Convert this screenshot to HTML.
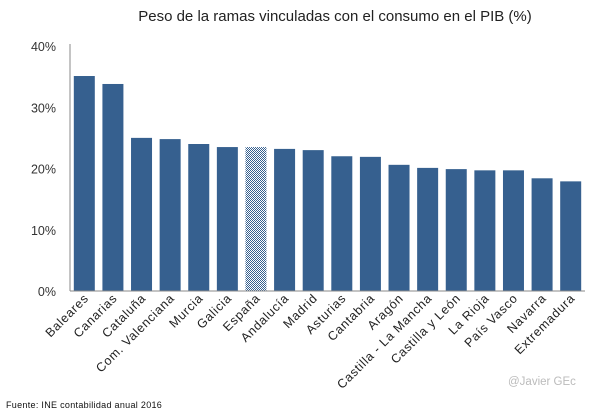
<!DOCTYPE html>
<html><head><meta charset="utf-8"><style>
body{margin:0;background:#fff;width:605px;height:414px;overflow:hidden;font-family:"Liberation Sans",sans-serif}
</style></head><body>
<svg id="c" width="605" height="414">
<defs><pattern id="hatch" width="2" height="2" patternUnits="userSpaceOnUse"><rect width="2" height="2" fill="#fff"/><rect width="1" height="1" fill="#36608f"/><rect x="1" y="1" width="1" height="1" fill="#36608f"/></pattern></defs>
<text x="335" y="21" text-anchor="middle" font-size="15" fill="#222">Peso de la ramas vinculadas con el consumo en el PIB (%)</text>
<text x="6" y="408" font-size="9" letter-spacing="0.3" fill="#111">Fuente: INE contabilidad anual 2016</text>
<text x="508" y="385" font-size="11.5" fill="#bbb">@Javier GEc</text>
</svg>
<script>
const categories=["Baleares","Canarias","Cataluña","Com. Valenciana","Murcia","Galicia","España","Andalucía","Madrid","Asturias","Cantabria","Aragón","Castilla - La Mancha","Castilla y León","La Rioja","País Vasco","Navarra","Extremadura"];
const values=[35.1,33.8,25.0,24.8,24.0,23.5,23.5,23.2,23.0,22.0,21.9,20.6,20.1,19.9,19.7,19.7,18.4,17.9];
const yTicks=[0,10,20,30,40];
const yTickLabels=["0%","10%","20%","30%","40%"];
const svg=document.getElementById('c');const NS='http://www.w3.org/2000/svg';
const x0=70,x1=585,yb=291,yt=46,ymax=40;
const band=(x1-x0)/categories.length;
const y=v=>yb-(v/ymax)*(yb-yt);
const xc=i=>x0+band*(i+0.5);
function mk(t,a){const e=document.createElementNS(NS,t);for(const k in a)e.setAttribute(k,a[k]);svg.appendChild(e);return e;}
yTicks.forEach((t,i)=>{const e=mk('text',{x:56,y:y(t)+5,'text-anchor':'end','font-size':12.5,fill:'#333'});e.textContent=yTickLabels[i];

});
values.forEach((v,i)=>{const r=mk('rect',{x:xc(i)-10.5,y:y(v),width:21,height:yb-y(v),fill:categories[i]==='España'?'url(#hatch)':'#36608f'});


const t=mk('text',{x:xc(i)+5,y:299,'text-anchor':'end','font-size':12.5,'letter-spacing':0.7,fill:'#222',transform:`rotate(-45 ${xc(i)+5} 299)`});t.textContent=categories[i];

});
const ya=mk('line',{x1:x0,y1:yt-2,x2:x0,y2:yb,stroke:'#888','stroke-width':1});


const xa=mk('line',{x1:x0,y1:yb,x2:x1,y2:yb,stroke:'#888','stroke-width':1});


</script>
</body></html>
